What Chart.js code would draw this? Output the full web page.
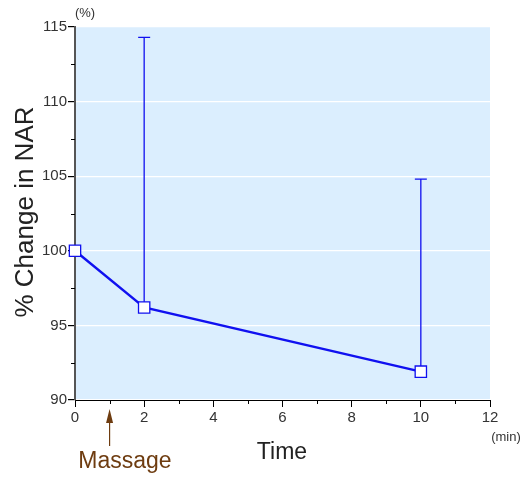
<!DOCTYPE html>
<html>
<head>
<meta charset="utf-8">
<script src="https://cdn.jsdelivr.net/npm/chart.js@4"></script>
<style>
  html, body { margin: 0; padding: 0; background: #fff; }
  #wrap { width: 523px; height: 478px; }
</style>
</head>
<body>
<div id="wrap"><canvas id="chartNar" width="523" height="478"></canvas></div>
<script>
// données
let time = [0, 2, 10];
let narChange = [100, 96.2, 91.9];
let errorTop = [null, 114.3, 104.8];
let massageAt = 1;

let blue = '#1010f0';
let brown = '#6e3c10';
let font = '"Liberation Sans", Arial, sans-serif';

// fond bleu clair de la zone de tracé
const backgroundPlugin = {
    id: 'background',
    beforeDraw(chart) {
        let a = chart.chartArea;
        let ctx = chart.ctx;
        ctx.save();
        ctx.fillStyle = '#dbeefe';
        ctx.fillRect(a.left, a.top, a.right - a.left, a.bottom - a.top);
        ctx.restore();
    }
};

// barres d'erreur (vers le haut seulement)
const errorBarPlugin = {
    id: 'errorBars',
    beforeDatasetsDraw(chart) {
        let ctx = chart.ctx;
        let x = chart.scales.x;
        let y = chart.scales.y;
        ctx.save();
        ctx.strokeStyle = blue;
        ctx.lineWidth = 1.3;
        time.forEach((t, i) => {
            if (errorTop[i] === null) return;
            let px = x.getPixelForValue(t);
            let py = y.getPixelForValue(narChange[i]);
            let pTop = y.getPixelForValue(errorTop[i]);
            ctx.beginPath();
            ctx.moveTo(px, py);
            ctx.lineTo(px, pTop);
            ctx.moveTo(px - 6, pTop);
            ctx.lineTo(px + 6, pTop);
            ctx.stroke();
        });
        ctx.restore();
    }
};

// graduations secondaires, unités, titres et flèche "Massage"
const decorPlugin = {
    id: 'decor',
    afterDraw(chart) {
        let ctx = chart.ctx;
        let x = chart.scales.x;
        let y = chart.scales.y;
        let a = chart.chartArea;
        ctx.save();

        ctx.strokeStyle = '#000';
        ctx.lineWidth = 1;
        ctx.beginPath();
        [92.5, 97.5, 102.5, 107.5, 112.5].forEach(v => {
            let py = Math.round(y.getPixelForValue(v)) + 0.5;
            ctx.moveTo(a.left - 4, py);
            ctx.lineTo(a.left, py);
        });
        [1, 3, 5, 7, 9, 11].forEach(v => {
            let px = Math.round(x.getPixelForValue(v)) + 0.5;
            ctx.moveTo(px, a.bottom);
            ctx.lineTo(px, a.bottom + 4);
        });
        ctx.stroke();

        ctx.fillStyle = '#333';
        ctx.font = '13px ' + font;
        ctx.textAlign = 'center';
        ctx.textBaseline = 'middle';
        ctx.fillText('(%)', a.left + 10, 13);
        ctx.fillText('(min)', 506, 437);

        ctx.fillStyle = '#222';
        ctx.font = '23px ' + font;
        ctx.textBaseline = 'alphabetic';
        ctx.fillText('Time', 282, 459);

        ctx.save();
        ctx.translate(33, 212);
        ctx.rotate(-Math.PI / 2);
        ctx.font = '26px ' + font;
        ctx.fillText('% Change in NAR', 0, 0);
        ctx.restore();

        let mx = x.getPixelForValue(massageAt);
        ctx.strokeStyle = brown;
        ctx.fillStyle = brown;
        ctx.lineWidth = 1.2;
        ctx.beginPath();
        ctx.moveTo(mx, 420);
        ctx.lineTo(mx, 446);
        ctx.stroke();
        ctx.beginPath();
        ctx.moveTo(mx, 409);
        ctx.lineTo(mx - 3.5, 423);
        ctx.lineTo(mx + 3.5, 423);
        ctx.closePath();
        ctx.fill();
        ctx.fillText('Massage', 125, 468);

        ctx.restore();
    }
};

let ctxNar = document.querySelector('#chartNar').getContext('2d');
let chartNar = new Chart(ctxNar, {
    type: 'line',
    data: {
        datasets: [
            {
                data: time.map((t, i) => ({ x: t, y: narChange[i] })),
                borderColor: blue,
                borderWidth: 2.4,
                pointStyle: 'rect',
                pointRadius: 8,
                pointBackgroundColor: '#fff',
                pointBorderColor: blue,
                pointBorderWidth: 1.3,
                tension: 0,
                clip: false
            }
        ]
    },
    options: {
        responsive: false,
        animation: false,
        layout: { padding: { top: 27, right: 33, left: 0, bottom: 0 } },
        plugins: {
            legend: { display: false },
            tooltip: { enabled: false }
        },
        scales: {
            x: {
                type: 'linear',
                min: 0,
                max: 12,
                afterFit: scale => { scale.height = 78; },
                ticks: {
                    stepSize: 2,
                    color: '#333',
                    font: { family: font, size: 15 },
                    padding: 2,
                    maxRotation: 0
                },
                grid: {
                    drawOnChartArea: false,
                    tickColor: '#000',
                    tickLength: 7
                },
                border: { color: '#000', width: 1 }
            },
            y: {
                min: 90,
                max: 115,
                afterFit: scale => { scale.width = 75; },
                ticks: {
                    stepSize: 5,
                    color: '#333',
                    font: { family: font, size: 15 },
                    padding: 1
                },
                grid: {
                    color: '#ffffff',
                    lineWidth: 1.2,
                    tickColor: '#000',
                    tickLength: 7
                },
                border: { color: '#555', width: 2 }
            }
        }
    },
    plugins: [backgroundPlugin, errorBarPlugin, decorPlugin]
});
</script>
</body>
</html>
